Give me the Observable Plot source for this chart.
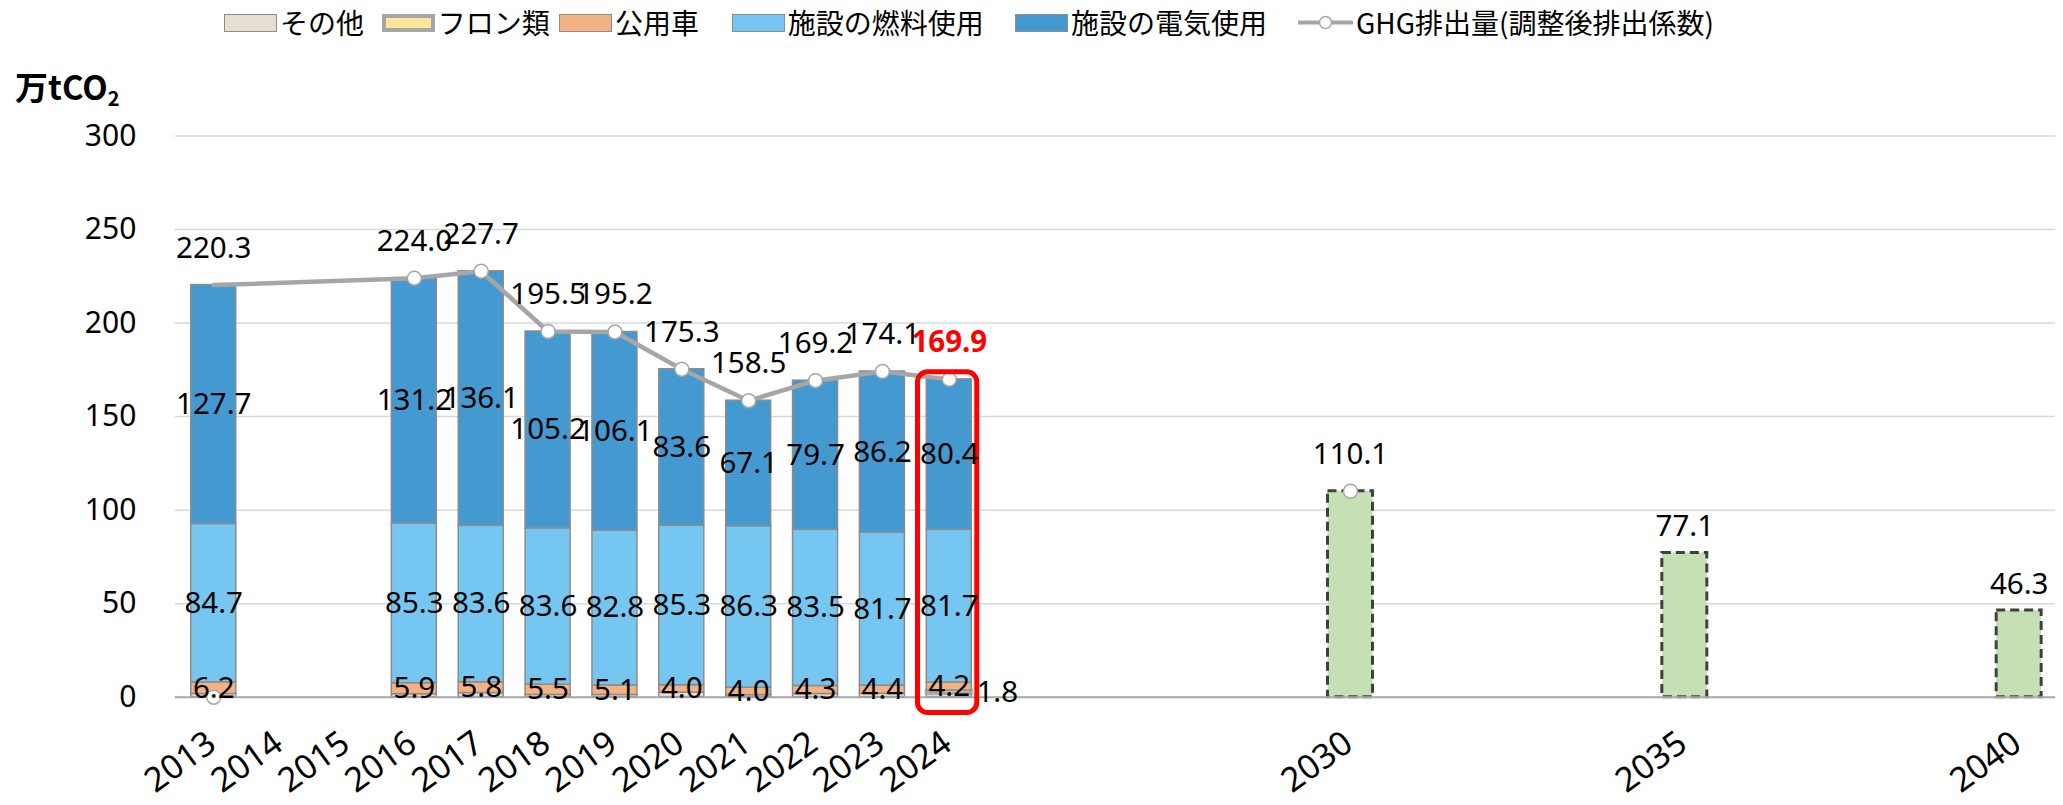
<!DOCTYPE html>
<html>
<head>
<meta charset="utf-8">
<script src="https://cdn.jsdelivr.net/npm/d3@7"></script>
<script src="https://cdn.jsdelivr.net/npm/@observablehq/plot@0.6"></script>
<style>
  body { margin: 0; background: #fff; }
  #wrap { position: relative; width: 2063px; height: 805px; overflow: hidden; background: #fff; }
  #chart { position: absolute; left: 0; top: 0; }
  .leg-sw { position: absolute; top: 13.5px; width: 53px; height: 18px; box-sizing: border-box; }
  .leg-tx { position: absolute; top: 0; height: 45px; line-height: 45px; font-family: "Noto Sans CJK JP", sans-serif; font-size: 28px; color: #000; white-space: nowrap; }
  #ytitle { position: absolute; left: 15px; top: 65px; font-family: "Noto Sans CJK JP", sans-serif; font-weight: bold; font-size: 33px; line-height: 42px; color: #000; white-space: nowrap; }
  #ytitle sub { font-size: 20px; vertical-align: -6px; line-height: 0; }
</style>
</head>
<body>
<div id="wrap">
  <div id="chart"></div>
  <div id="legend"></div>
  <div id="ytitle">万tCO<sub>2</sub></div>
</div>
<script>
// ---------------- data ----------------
const allYears = ["2013","2014","2015","2016","2017","2018","2019","2020","2021","2022","2023","2024",
                  "2025","2026","2027","2028","2029","2030","2031","2032","2033","2034","2035",
                  "2036","2037","2038","2039","2040"];
const tickYears = ["2013","2014","2015","2016","2017","2018","2019","2020","2021","2022","2023","2024","2030","2035","2040"];

const actualYears = ["2013","2016","2017","2018","2019","2020","2021","2022","2023","2024"];
const seriesNames = ["その他","フロン類","公用車","施設の燃料使用","施設の電気使用"];
const otherVals   = [1.7, 1.6, 2.2, 1.2, 1.2, 2.4, 1.1, 1.7, 1.8, 1.8];
const freonVals   = [0, 0, 0, 0, 0, 0, 0, 0, 0, 1.8];
const vehicleVals = [6.2, 5.9, 5.8, 5.5, 5.1, 4.0, 4.0, 4.3, 4.4, 4.2];
const fuelVals    = [84.7, 85.3, 83.6, 83.6, 82.8, 85.3, 86.3, 83.5, 81.7, 81.7];
const elecVals    = [127.7, 131.2, 136.1, 105.2, 106.1, 83.6, 67.1, 79.7, 86.2, 80.4];

const ghgLineName = "GHG排出量(調整後排出係数)";
const ghgVals     = [220.3, 224.0, 227.7, 195.5, 195.2, 175.3, 158.5, 169.2, 174.1, 169.9];

// markers of the GHG series (in the source the 2013 marker sits on the baseline)
const markerYears  = ["2013","2016","2017","2018","2019","2020","2021","2022","2023","2024","2030"];
const markerVals   = [0, 224.0, 227.7, 195.5, 195.2, 175.3, 158.5, 169.2, 174.1, 169.9, 110.1];
const ghgLabelYears = ["2013","2016","2017","2018","2019","2020","2021","2022","2023","2024","2030"];
const ghgLabelVals  = [220.3, 224.0, 227.7, 195.5, 195.2, 175.3, 158.5, 169.2, 174.1, 169.9, 110.1];

const targetYears = ["2030","2035","2040"];
const targetVals  = [110.1, 77.1, 46.3];

const highlightYear = "2024";
const highlightRange = [-8.4, 173.7];

// ---------------- styles ----------------
const seriesFill = {
  "その他": "#E7DED3",
  "フロン類": "#FFE699",
  "公用車": "#F4B183",
  "施設の燃料使用": "#75C6F0",
  "施設の電気使用": "#4499D0"
};
const labelFont = "'Noto Sans', 'Open Sans', sans-serif";
const fmt = d3.format(".1f");

// ---------------- tables ----------------
const seriesValues = [otherVals, freonVals, vehicleVals, fuelVals, elecVals];
const rows = [];
actualYears.forEach((yr, i) => {
  seriesNames.forEach((s, j) => rows.push({year: yr, series: s, value: seriesValues[j][i]}));
});
const ghgLine = actualYears.map((yr, i) => ({year: yr, value: ghgVals[i]}));
const markers = markerYears.map((yr, i) => ({year: yr, value: markerVals[i]}));
const ghgLabels = ghgLabelYears.map((yr, i) => ({year: yr, value: ghgLabelVals[i]}));
const targets = targetYears.map((yr, i) => ({year: yr, value: targetVals[i]}));
const showSegLabel = new Set(["公用車","施設の燃料使用","施設の電気使用"]);

const chart = Plot.plot({
  width: 2063,
  height: 805,
  marginTop: 135.5,
  marginBottom: 108.3,
  marginLeft: 179.8,
  marginRight: 10.9,
  style: {fontFamily: labelFont, fontSize: "30px", background: "#fff", color: "#000", overflow: "visible"},
  x: {domain: allYears, paddingInner: 0.327, paddingOuter: 0.1635, round: false, axis: null},
  y: {domain: [0, 300], ticks: 6, tickSize: 0, tickPadding: 44, label: null, tickFormat: d => String(d)},
  marks: [
    Plot.ruleY([50, 100, 150, 200, 250, 300], {stroke: "#D9D9D9", strokeWidth: 1.5, insetLeft: -5, insetRight: -3}),
    Plot.barY(rows, {
      x: "year", y: "value", z: "series",
      fill: d => seriesFill[d.series],
      stroke: d => d.series === "フロン類" ? "#A6A6A6" : "#8C8C8C",
      strokeWidth: d => (d.series === "フロン類" && d.value > 0) ? 3 : 1.5
    }),
    Plot.barY(targets, {
      x: "year", y: "value",
      fill: "#C5E0B4", stroke: "#404040", strokeWidth: 3, strokeDasharray: "9,5"
    }),
    Plot.ruleY([0], {stroke: "#A6A6A6", strokeWidth: 2, insetLeft: -5, insetRight: -3}),
    Plot.line(ghgLine, {x: "year", y: "value", stroke: "#A6A6A6", strokeWidth: 4.5}),
    Plot.dot(markers, {x: "year", y: "value", r: 7, fill: "#fff", stroke: "#A6A6A6", strokeWidth: 1.5}),
    Plot.barY([{year: highlightYear, y1: highlightRange[0], y2: highlightRange[1]}], {
      x: "year", y1: "y1", y2: "y2",
      insetLeft: -8.8, insetRight: -5.5,
      fill: "none", stroke: "#FF0000", strokeWidth: 5, rx: 10, ry: 10
    }),
    // segment labels
    Plot.text(rows, Plot.stackY({
      x: "year", y: "value", z: "series",
      text: d => showSegLabel.has(d.series) ? fmt(d.value) : null,
      fontSize: 29.5, fontFamily: labelFont, fill: "#000"
    })),
    Plot.text(rows, Plot.stackY({
      x: "year", y: "value", z: "series",
      text: d => (d.series === "フロン類" && d.value > 0) ? fmt(d.value) : null,
      dx: 48, fontSize: 29.5, fontFamily: labelFont, fill: "#000"
    })),
    // GHG labels
    Plot.text(ghgLabels.filter(d => d.year !== highlightYear), {
      x: "year", y: "value", text: d => fmt(d.value), dy: -37,
      fontSize: 29.5, fontFamily: labelFont, fill: "#000"
    }),
    Plot.text(ghgLabels.filter(d => d.year === highlightYear), {
      x: "year", y: "value", text: d => fmt(d.value), dy: -37,
      fontSize: 29.5, fontWeight: "bold", fontFamily: labelFont, fill: "#FF0000"
    }),
    // target bar labels (years not labelled by the GHG series)
    Plot.text(targets.filter(d => !ghgLabelYears.includes(d.year)), {
      x: "year", y: "value", text: d => fmt(d.value), dy: -26,
      fontSize: 29.5, fontFamily: labelFont, fill: "#000"
    }),
    // x tick labels
    Plot.text(tickYears, {
      x: d => d, frameAnchor: "bottom", dy: 42, dx: -2,
      rotate: -36, textAnchor: "end", lineAnchor: "middle",
      fontSize: 34, fontFamily: labelFont, fill: "#000"
    })
  ]
});
document.getElementById("chart").appendChild(chart);

// ---------------- legend ----------------
const legendLeft = [224, 381.7, 559, 731.7, 1015, 1298];
const legend = document.getElementById("legend");
seriesNames.forEach((s, i) => {
  const sw = document.createElement("div");
  sw.className = "leg-sw";
  sw.style.left = legendLeft[i] + "px";
  sw.style.background = seriesFill[s];
  sw.style.border = s === "フロン類" ? "4px solid #A6A6A6" : "1.5px solid #8C8C8C";
  legend.appendChild(sw);
  const tx = document.createElement("div");
  tx.className = "leg-tx";
  tx.style.left = (legendLeft[i] + 56) + "px";
  tx.textContent = s;
  legend.appendChild(tx);
});
{
  const x0 = legendLeft[5];
  const svgNS = "http://www.w3.org/2000/svg";
  const s = document.createElementNS(svgNS, "svg");
  s.setAttribute("width", 56); s.setAttribute("height", 45);
  s.style.position = "absolute"; s.style.left = x0 + "px"; s.style.top = "0px";
  const ln = document.createElementNS(svgNS, "line");
  ln.setAttribute("x1", 0); ln.setAttribute("x2", 55); ln.setAttribute("y1", 22.5); ln.setAttribute("y2", 22.5);
  ln.setAttribute("stroke", "#A6A6A6"); ln.setAttribute("stroke-width", 4);
  s.appendChild(ln);
  const c = document.createElementNS(svgNS, "circle");
  c.setAttribute("cx", 27.5); c.setAttribute("cy", 22.5); c.setAttribute("r", 6);
  c.setAttribute("fill", "#fff"); c.setAttribute("stroke", "#A6A6A6"); c.setAttribute("stroke-width", 1.5);
  s.appendChild(c);
  legend.appendChild(s);
  const tx = document.createElement("div");
  tx.className = "leg-tx";
  tx.style.left = (x0 + 58) + "px";
  tx.textContent = ghgLineName;
  legend.appendChild(tx);
}
</script>
</body>
</html>
